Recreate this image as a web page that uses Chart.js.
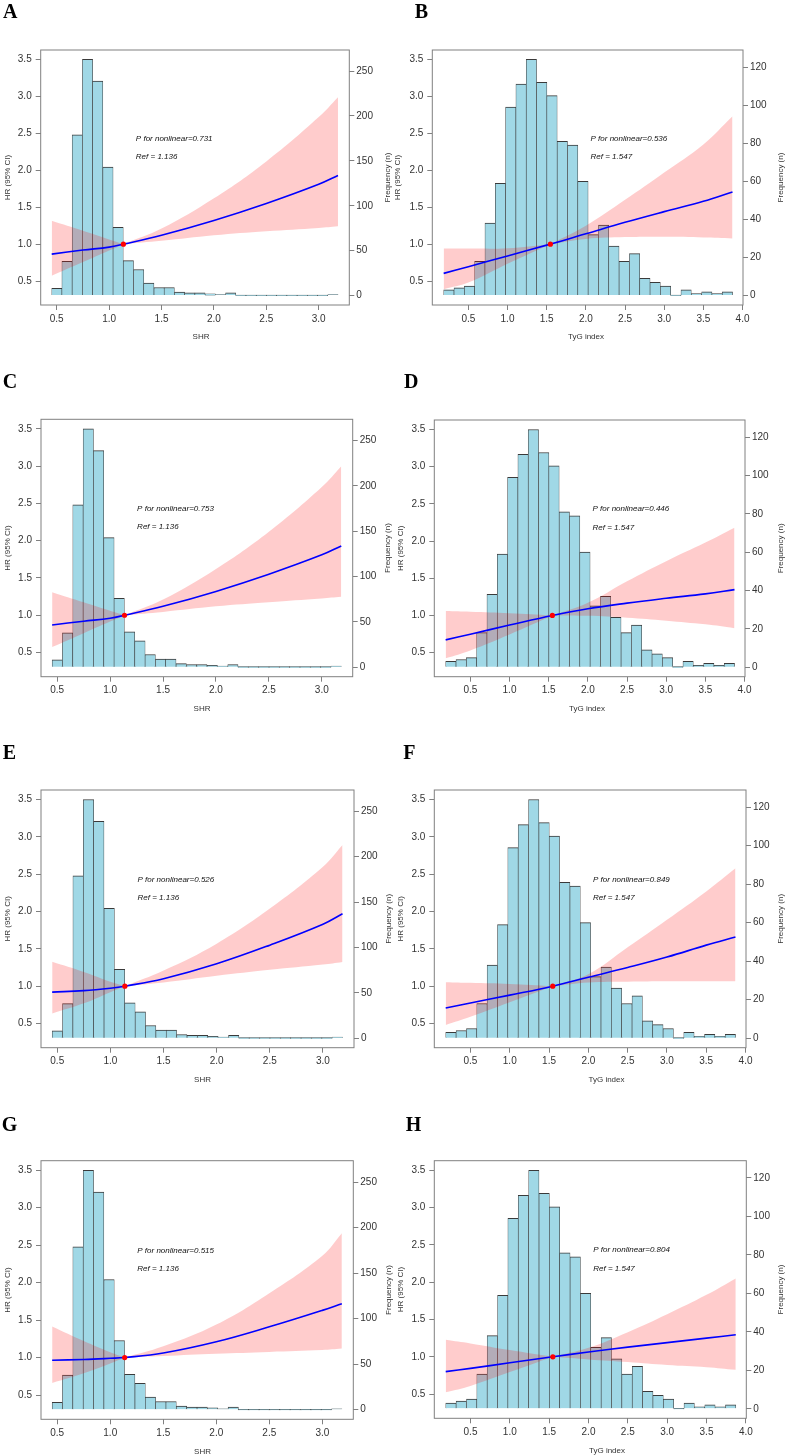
<!DOCTYPE html>
<html>
<head>
<meta charset="utf-8">
<script src="https://cdn.jsdelivr.net/npm/chart.js@4.4.1/dist/chart.umd.min.js"></script>
<style>
  body { margin: 0; background: #fff; width: 788px; height: 1455px; position: relative; overflow: hidden; }
</style>
</head>
<body>
<script>
// histogram bins (bin centres) and counts
const shrBins = [0.501, 0.598, 0.696, 0.794, 0.891, 0.989, 1.086, 1.184, 1.282, 1.379, 1.477, 1.574, 1.672, 1.770,
                 1.867, 1.965, 2.062, 2.160, 2.257, 2.355, 2.453, 2.550, 2.648, 2.745, 2.843, 2.941, 3.038, 3.136];
const shrCounts = [8, 38, 179, 263, 239, 143, 76, 39, 29, 14, 9, 9, 4, 3, 3, 2, 1, 3, 0, 0, 0, 0, 0, 0, 0, 0, 0, 1];
const tygBins = [0.251, 0.383, 0.515, 0.646, 0.778, 0.910, 1.041, 1.173, 1.305, 1.437, 1.568, 1.700, 1.832, 1.963,
                 2.095, 2.227, 2.358, 2.490, 2.622, 2.754, 2.885, 3.017, 3.149, 3.280, 3.412, 3.544, 3.675, 3.807];
const tygCounts = [3, 4, 5, 18, 38, 59, 99, 111, 124, 112, 105, 81, 79, 60, 32, 37, 26, 18, 22, 9, 7, 5, 0, 3, 1, 2, 1, 2];

// spline sample points (the reference value sits in the middle)
const shrX = [0.452, 0.75, 1.0, 1.136, 1.5, 2.0, 2.5, 3.0, 3.184];
const tygX = [0.185, 0.5, 1.0, 1.547, 2.0, 2.5, 3.0, 3.5, 3.872];

// HR and 95% CI per panel
const hrA = [0.865, 0.92, 0.96, 1.0, 1.12, 1.32, 1.55, 1.81, 1.93];
const loA = [0.572, 0.757, 0.914, 1.0, 1.045, 1.12, 1.175, 1.22, 1.243];
const hiA = [1.315, 1.18, 1.063, 1.0, 1.21, 1.62, 2.12, 2.72, 2.99];

const hrB = [0.604, 0.695, 0.84, 1.0, 1.14, 1.295, 1.44, 1.58, 1.707];
const loB = [0.39, 0.48, 0.735, 1.0, 1.07, 1.095, 1.1, 1.09, 1.077];
const hiB = [0.94, 0.94, 0.945, 1.0, 1.25, 1.6, 1.97, 2.35, 2.73];

const hrC = [0.87, 0.92, 0.96, 1.0, 1.12, 1.32, 1.55, 1.81, 1.93];
const loC = [0.573, 0.76, 0.915, 1.0, 1.045, 1.12, 1.175, 1.225, 1.247];
const hiC = [1.31, 1.175, 1.06, 1.0, 1.21, 1.62, 2.12, 2.72, 3.0];

const hrD = [0.671, 0.748, 0.87, 1.0, 1.09, 1.165, 1.23, 1.29, 1.347];
const loD = [0.423, 0.53, 0.745, 1.0, 0.995, 0.97, 0.93, 0.88, 0.829];
const hiD = [1.06, 1.05, 1.03, 1.0, 1.17, 1.46, 1.73, 1.98, 2.18];

const hrE = [0.92, 0.94, 0.973, 1.0, 1.10, 1.30, 1.55, 1.83, 1.97];
const loE = [0.634, 0.77, 0.92, 1.0, 1.05, 1.14, 1.22, 1.29, 1.325];
const hiE = [1.326, 1.19, 1.06, 1.0, 1.21, 1.57, 2.04, 2.6, 2.89];

const hrF = [0.708, 0.775, 0.88, 1.0, 1.12, 1.25, 1.39, 1.55, 1.66];
const loF = [0.48, 0.59, 0.785, 1.0, 1.05, 1.06, 1.065, 1.066, 1.067];
const hiF = [1.054, 1.045, 1.03, 1.0, 1.16, 1.52, 1.89, 2.27, 2.58];

const hrG = [0.964, 0.975, 0.99, 1.0, 1.06, 1.21, 1.41, 1.63, 1.72];
const loG = [0.66, 0.79, 0.92, 1.0, 1.02, 1.05, 1.075, 1.10, 1.12];
const hiG = [1.415, 1.22, 1.07, 1.0, 1.15, 1.44, 1.86, 2.36, 2.66];

const hrH = [0.802, 0.845, 0.92, 1.0, 1.065, 1.13, 1.19, 1.25, 1.296];
const loH = [0.524, 0.61, 0.795, 1.0, 0.965, 0.93, 0.89, 0.86, 0.825];
const hiH = [1.229, 1.18, 1.09, 1.0, 1.12, 1.33, 1.57, 1.83, 2.05];

const pValues = [0.731, 0.536, 0.753, 0.446, 0.526, 0.849, 0.515, 0.804];

// tick labels
const hrTicks = [0.5, 1.0, 1.5, 2.0, 2.5, 3.0, 3.5];
const shrTicks = [0.5, 1.0, 1.5, 2.0, 2.5, 3.0];
const tygTicks = [0.5, 1.0, 1.5, 2.0, 2.5, 3.0, 3.5, 4.0];
const shrFreqTicks = [0, 50, 100, 150, 200, 250];
const tygFreqTicks = [0, 20, 40, 60, 80, 100, 120];

const vars = {
  shr: { name: 'SHR', bins: shrBins, counts: shrCounts, xs: shrX, ref: 1.136, xTicks: shrTicks, fTicks: shrFreqTicks,
         xRange: [0.347, 3.292], fRange: [-10.5, 273.5], textX: 1.255 },
  tyg: { name: 'TyG index', bins: tygBins, counts: tygCounts, xs: tygX, ref: 1.547, xTicks: tygTicks, fTicks: tygFreqTicks,
         xRange: [0.04, 4.006], fRange: [-4.96, 128.96], textX: 2.06 }
};

// layout, page pixels: box = [left, top, right, bottom]; titles = [yTitleX, xTitleX, y1TitleX]
const panels = [
  { tag: 'A', v: 'shr', col: 0, top: 0,    box: [40.7, 50, 349.3, 305],      tagAt: [3, 18.3],     titles: [7.3, 201, 388],   hr: hrA, lo: loA, hi: hiA },
  { tag: 'B', v: 'tyg', col: 1, top: 0,    box: [432.3, 50, 743, 305],       tagAt: [414.7, 18.3], titles: [398, 586, 781],   hr: hrB, lo: loB, hi: hiB },
  { tag: 'C', v: 'shr', col: 0, top: 369,  box: [41, 419.3, 352.7, 676.7],   tagAt: [2.7, 388.3],  titles: [7.3, 202, 388],   hr: hrC, lo: loC, hi: hiC },
  { tag: 'D', v: 'tyg', col: 1, top: 369,  box: [434.3, 420, 745, 676.7],    tagAt: [404, 388.3],  titles: [400.7, 587, 781], hr: hrD, lo: loD, hi: hiD },
  { tag: 'E', v: 'shr', col: 0, top: 740,  box: [41, 790, 354, 1047.7],      tagAt: [2.7, 759.3],  titles: [7.3, 202.5, 389], hr: hrE, lo: loE, hi: hiE },
  { tag: 'F', v: 'tyg', col: 1, top: 740,  box: [434.3, 790, 746, 1047.7],   tagAt: [403.3, 759.3],titles: [400.7, 606.5, 781], hr: hrF, lo: loF, hi: hiF },
  { tag: 'G', v: 'shr', col: 0, top: 1111, box: [41, 1160.7, 353.3, 1419.3], tagAt: [1.7, 1130.7], titles: [7.3, 202.5, 389], hr: hrG, lo: loG, hi: hiG },
  { tag: 'H', v: 'tyg', col: 1, top: 1111, box: [434.3, 1160.7, 746.3, 1418.3], tagAt: [405.7, 1130.7], titles: [400.7, 607, 781], hr: hrH, lo: loH, hi: hiH }
];

const FONT = '"Liberation Sans", Arial, sans-serif';
Chart.defaults.font.family = FONT;

// box, annotations, axis titles and panel letter
const panelDecor = {
  id: 'panelDecor',
  afterDatasetsDraw(chart, args, o) {
    const { ctx, chartArea: a, scales } = chart;
    ctx.save();
    ctx.strokeStyle = '#808080';
    ctx.lineWidth = 1;
    ctx.strokeRect(a.left, a.top, a.right - a.left, a.bottom - a.top);

    ctx.fillStyle = '#111';
    ctx.font = 'italic 8px ' + FONT;
    ctx.textAlign = 'left';
    ctx.textBaseline = 'middle';
    const tx = scales.x.getPixelForValue(o.textX);
    ctx.fillText('P for nonlinear=' + o.p, tx, scales.y.getPixelForValue(2.43));
    ctx.fillText('Ref = ' + o.ref, tx, scales.y.getPixelForValue(2.18));

    ctx.fillStyle = '#333';
    ctx.font = '8px ' + FONT;
    ctx.textAlign = 'center';
    ctx.fillText(o.xTitle, o.titles[1], a.bottom + 32);
    const midY = (a.top + a.bottom) / 2;
    [[o.titles[0], 'HR (95% CI)'], [o.titles[2], 'Frequency (n)']].forEach(([x, t]) => {
      ctx.save();
      ctx.translate(x, midY);
      ctx.rotate(-Math.PI / 2);
      ctx.fillText(t, 0, 0);
      ctx.restore();
    });

    ctx.fillStyle = '#000';
    ctx.font = 'bold 20px "Liberation Serif", "Times New Roman", serif';
    ctx.textAlign = 'left';
    ctx.textBaseline = 'alphabetic';
    ctx.fillText(o.tag, o.tagAt[0], o.tagAt[1]);
    ctx.restore();
  }
};

const tickGrid = { display: true, drawOnChartArea: false, drawTicks: true, tickLength: 5, color: '#808080', lineWidth: 1 };
const tickFont = { size: 10, family: FONT };

panels.forEach((p, n) => {
  const V = vars[p.v];
  const x0 = p.col * 394;
  const H = 350;
  const cv = document.createElement('canvas');
  cv.width = 394;
  cv.height = H;
  cv.style.cssText = `position:absolute;left:${x0}px;top:${p.top}px`;
  document.body.appendChild(cv);

  const [bl, bt, br, bb] = p.box;
  const pts = ys => V.xs.map((x, i) => ({ x, y: ys[i] }));
  const k = V.xs.indexOf(V.ref);
  const leftPart = ys => pts(ys).slice(0, k + 1);
  const rightPart = ys => pts(ys).slice(k);
  // the CI band is split at the reference value so it pinches to a point there
  const band = (data, fill) => ({
    type: 'line', data, borderColor: 'rgba(0,0,0,0)', borderWidth: 0, pointRadius: 0,
    tension: 0.4, fill, backgroundColor: 'rgba(255,0,0,0.2)', yAxisID: 'y', order: 3
  });

  new Chart(cv, {
    type: 'line',
    data: {
      datasets: [
        { type: 'bar', data: V.bins.map((x, i) => ({ x, y: V.counts[i] })), yAxisID: 'y1',
          backgroundColor: 'rgb(160,216,230)', borderColor: '#3a3a3a',
          borderWidth: { top: 1, left: 0.6, right: 0.6, bottom: 0 }, borderSkipped: false,
          barPercentage: 1, categoryPercentage: 1, minBarLength: 1, order: 4 },
        band(leftPart(p.lo), false),
        band(leftPart(p.hi), '-1'),
        band(rightPart(p.lo), false),
        band(rightPart(p.hi), '-1'),
        { type: 'line', data: pts(p.hr), borderColor: '#0000ff', borderWidth: 1.6, pointRadius: 0,
          tension: 0.4, fill: false, yAxisID: 'y', order: 1 },
        { type: 'line', data: [{ x: V.ref, y: 1 }], showLine: false, pointRadius: 2.6, pointBorderWidth: 0,
          pointBackgroundColor: '#ff0000', yAxisID: 'y', order: 0 }
      ]
    },
    options: {
      responsive: false,
      devicePixelRatio: 1,
      animation: false,
      events: [],
      layout: { padding: { top: bt - p.top, left: 0, right: 0, bottom: 0 } },
      plugins: {
        legend: { display: false },
        tooltip: { enabled: false },
        panelDecor: {
          tag: p.tag, tagAt: [p.tagAt[0] - x0, p.tagAt[1] - p.top],
          titles: [p.titles[0] - x0, p.titles[1] - x0, p.titles[2] - x0],
          xTitle: V.name, textX: V.textX, p: pValues[n].toFixed(3), ref: V.ref.toFixed(3)
        }
      },
      scales: {
        x: {
          type: 'linear', position: 'bottom', min: V.xRange[0], max: V.xRange[1], offset: false,
          afterBuildTicks: s => { s.ticks = V.xTicks.map(v => ({ value: v })); },
          afterFit: s => { s.height = p.top + H - bb; },
          ticks: { font: tickFont, color: '#333', padding: 3, maxRotation: 0, autoSkip: false, callback: v => v.toFixed(1) },
          grid: { ...tickGrid, offset: false },
          border: { display: false }
        },
        y: {
          type: 'linear', position: 'left', min: 0.176, max: 3.628,
          afterBuildTicks: s => { s.ticks = hrTicks.map(v => ({ value: v })); },
          afterFit: s => { s.width = bl - x0; },
          ticks: { font: tickFont, color: '#333', padding: 4, callback: v => v.toFixed(1) },
          grid: tickGrid,
          border: { display: false }
        },
        y1: {
          type: 'linear', position: 'right', min: V.fRange[0], max: V.fRange[1],
          afterBuildTicks: s => { s.ticks = V.fTicks.map(v => ({ value: v })); },
          afterFit: s => { s.width = x0 + 394 - br; },
          ticks: { font: tickFont, color: '#333', padding: 2, callback: v => String(v) },
          grid: tickGrid,
          border: { display: false }
        }
      }
    },
    plugins: [panelDecor]
  });
});
</script>
</body>
</html>
